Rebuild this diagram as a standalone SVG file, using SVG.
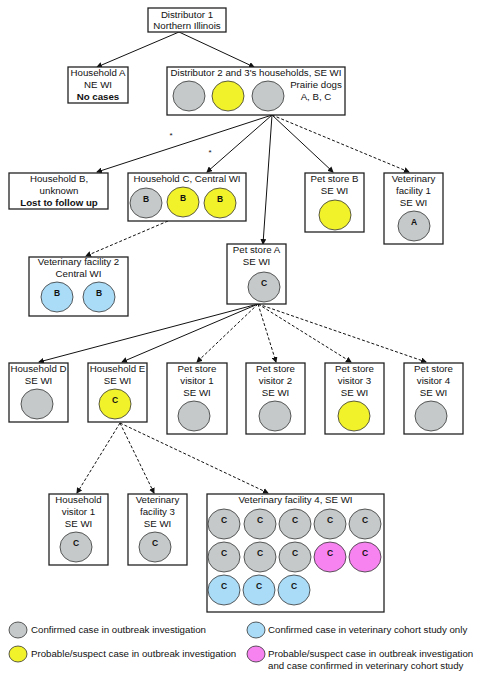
<svg xmlns="http://www.w3.org/2000/svg" width="480" height="684" viewBox="0 0 480 684">
<defs>
<marker id="ah" markerWidth="6" markerHeight="6" refX="5" refY="3" orient="auto" markerUnits="userSpaceOnUse">
<path d="M0,0 L6,3 L0,6 z" fill="#111"/>
</marker>
<style>
.box{fill:#fff;stroke:#222;stroke-width:1.3}
text{font-family:"Liberation Sans",Arial,sans-serif;font-size:9.7px;fill:#111;text-anchor:middle}
.b{font-weight:bold}
.l{font-weight:bold;font-size:8.5px}
.lg{text-anchor:start}
.g{fill:#c5c9c9;stroke:#333;stroke-width:0.8}
.y{fill:#f2f22a;stroke:#333;stroke-width:0.8}
.c{fill:#aadcf7;stroke:#333;stroke-width:0.8}
.p{fill:#f783f0;stroke:#333;stroke-width:0.8}
.s{fill:none;stroke:#111;stroke-width:1;marker-end:url(#ah)}
.d{fill:none;stroke:#111;stroke-width:1;stroke-dasharray:3,2;marker-end:url(#ah)}
</style>
</defs>
<rect width="480" height="684" fill="#fff"/>
<g id="connectors">
<line class="s" x1="179" y1="32" x2="97" y2="67"/>
<line class="s" x1="179" y1="32" x2="254" y2="67"/>
<line class="s" x1="272" y1="115" x2="97" y2="172"/>
<line class="s" x1="272" y1="115" x2="207" y2="172"/>
<line class="s" x1="272" y1="115" x2="263" y2="244"/>
<line class="s" x1="272" y1="115" x2="333" y2="172"/>
<line class="d" x1="272" y1="115" x2="409" y2="172"/>
<line class="d" x1="168" y1="221" x2="86" y2="256"/>
<line class="s" x1="258" y1="304" x2="39" y2="362"/>
<line class="s" x1="258" y1="304" x2="122" y2="362"/>
<line class="d" x1="258" y1="304" x2="197" y2="362"/>
<line class="d" x1="258" y1="304" x2="276" y2="362"/>
<line class="d" x1="258" y1="304" x2="351" y2="362"/>
<line class="d" x1="258" y1="304" x2="426" y2="362"/>
<line class="d" x1="120" y1="423" x2="77" y2="493"/>
<line class="d" x1="120" y1="423" x2="154" y2="493"/>
<line class="d" x1="120" y1="423" x2="268" y2="493"/>
<text x="171" y="138" style="font-size:8px">*</text>
<text x="210" y="155" style="font-size:8px">*</text>
</g>
<g id="distributor1">
<rect class="box" x="148" y="8" width="78" height="24"/>
<text x="187" y="18">Distributor 1</text>
<text x="187" y="29">Northern Illinois</text>
</g>
<g id="householdA">
<rect class="box" x="68" y="67" width="60" height="36"/>
<text x="98" y="76">Household A</text>
<text x="98" y="88">NE WI</text>
<text x="98" y="100" class="b">No cases</text>
</g>
<g id="distributor2">
<rect class="box" x="167" y="67" width="178" height="48"/>
<text x="256" y="76">Distributor 2 and 3's households, SE WI</text>
<ellipse class="g" cx="189" cy="96" rx="16" ry="15"/>
<ellipse class="y" cx="228" cy="96" rx="16" ry="15"/>
<ellipse class="g" cx="268" cy="96" rx="16" ry="15"/>
<text x="316" y="88">Prairie dogs</text>
<text x="316" y="100">A, B, C</text>
</g>
<g id="householdB">
<rect class="box" x="9" y="173" width="99" height="36"/>
<text x="59" y="182">Household B,</text>
<text x="59" y="194">unknown</text>
<text x="59" y="206" class="b">Lost to follow up</text>
</g>
<g id="householdC">
<rect class="box" x="128" y="173" width="118" height="48"/>
<text x="187" y="182">Household C, Central WI</text>
<ellipse class="g" cx="146" cy="203" rx="16" ry="15"/>
<text x="146" y="202" class="l">B</text>
<ellipse class="y" cx="183" cy="202" rx="16" ry="15"/>
<text x="183" y="201" class="l">B</text>
<ellipse class="y" cx="220" cy="203" rx="16" ry="15"/>
<text x="220" y="202" class="l">B</text>
</g>
<g id="petstoreB">
<rect class="box" x="305" y="173" width="59" height="59"/>
<text x="334.5" y="182">Pet store B</text>
<text x="334.5" y="194">SE WI</text>
<ellipse class="y" cx="335" cy="215" rx="16" ry="15"/>
</g>
<g id="vet1">
<rect class="box" x="384" y="173" width="59" height="71"/>
<text x="413.5" y="182">Veterinary</text>
<text x="413.5" y="194">facility 1</text>
<text x="413.5" y="206">SE WI</text>
<ellipse class="g" cx="414" cy="226" rx="16" ry="15"/>
<text x="414" y="225" class="l">A</text>
</g>
<g id="vet2">
<rect class="box" x="29" y="257" width="99" height="59"/>
<text x="78.5" y="265">Veterinary facility 2</text>
<text x="78.5" y="277">Central WI</text>
<ellipse class="c" cx="57" cy="297" rx="16" ry="15"/>
<text x="57" y="296" class="l">B</text>
<ellipse class="c" cx="99" cy="297" rx="16" ry="15"/>
<text x="99" y="296" class="l">B</text>
</g>
<g id="petstoreA">
<rect class="box" x="227" y="244" width="59" height="60"/>
<text x="256.5" y="253">Pet store A</text>
<text x="256.5" y="265">SE WI</text>
<ellipse class="g" cx="264" cy="287" rx="16" ry="15"/>
<text x="264" y="286" class="l">C</text>
</g>
<g id="householdD">
<rect class="box" x="9" y="363" width="59" height="59"/>
<text x="38.5" y="372">Household D</text>
<text x="38.5" y="384">SE WI</text>
<ellipse class="g" cx="37" cy="404" rx="16" ry="15"/>
</g>
<g id="householdE">
<rect class="box" x="88" y="363" width="59" height="59"/>
<text x="117.5" y="372">Household E</text>
<text x="117.5" y="384">SE WI</text>
<ellipse class="y" cx="115" cy="404" rx="16" ry="15"/>
<text x="115" y="403" class="l">C</text>
</g>
<g id="visitor1">
<rect class="box" x="167" y="363" width="60" height="71"/>
<text x="197" y="372">Pet store</text>
<text x="197" y="384">visitor 1</text>
<text x="197" y="396">SE WI</text>
<ellipse class="g" cx="194" cy="416" rx="16" ry="15"/>
</g>
<g id="visitor2">
<rect class="box" x="246" y="363" width="59" height="71"/>
<text x="275.5" y="372">Pet store</text>
<text x="275.5" y="384">visitor 2</text>
<text x="275.5" y="396">SE WI</text>
<ellipse class="g" cx="275" cy="416" rx="16" ry="15"/>
</g>
<g id="visitor3">
<rect class="box" x="325" y="363" width="59" height="71"/>
<text x="354.5" y="372">Pet store</text>
<text x="354.5" y="384">visitor 3</text>
<text x="354.5" y="396">SE WI</text>
<ellipse class="y" cx="354" cy="416" rx="16" ry="15"/>
</g>
<g id="visitor4">
<rect class="box" x="404" y="363" width="59" height="71"/>
<text x="433.5" y="372">Pet store</text>
<text x="433.5" y="384">visitor 4</text>
<text x="433.5" y="396">SE WI</text>
<ellipse class="g" cx="431" cy="416" rx="16" ry="15"/>
</g>
<g id="householdVisitor1">
<rect class="box" x="49" y="494" width="59" height="71"/>
<text x="78.5" y="503">Household</text>
<text x="78.5" y="515">visitor 1</text>
<text x="78.5" y="527">SE WI</text>
<ellipse class="g" cx="76" cy="547" rx="16" ry="15"/>
<text x="76" y="546" class="l">C</text>
</g>
<g id="vet3">
<rect class="box" x="128" y="494" width="59" height="71"/>
<text x="157.5" y="503">Veterinary</text>
<text x="157.5" y="515">facility 3</text>
<text x="157.5" y="527">SE WI</text>
<ellipse class="g" cx="155" cy="547" rx="16" ry="15"/>
<text x="155" y="546" class="l">C</text>
</g>
<g id="vet4">
<rect class="box" x="207" y="494" width="177" height="118"/>
<text x="295.5" y="503">Veterinary facility 4, SE WI</text>
<ellipse class="g" cx="224" cy="524" rx="16" ry="15"/><text x="224" y="523" class="l">C</text>
<ellipse class="g" cx="260" cy="524" rx="16" ry="15"/><text x="260" y="523" class="l">C</text>
<ellipse class="g" cx="295" cy="524" rx="16" ry="15"/><text x="295" y="523" class="l">C</text>
<ellipse class="g" cx="330" cy="524" rx="16" ry="15"/><text x="330" y="523" class="l">C</text>
<ellipse class="g" cx="365" cy="524" rx="16" ry="15"/><text x="365" y="523" class="l">C</text>
<ellipse class="g" cx="224" cy="557" rx="16" ry="15"/><text x="224" y="556" class="l">C</text>
<ellipse class="g" cx="260" cy="557" rx="16" ry="15"/><text x="260" y="556" class="l">C</text>
<ellipse class="g" cx="295" cy="557" rx="16" ry="15"/><text x="295" y="556" class="l">C</text>
<ellipse class="p" cx="330" cy="557" rx="16" ry="15"/><text x="330" y="556" class="l">C</text>
<ellipse class="p" cx="365" cy="557" rx="16" ry="15"/><text x="365" y="556" class="l">C</text>
<ellipse class="c" cx="224" cy="590" rx="16" ry="15"/><text x="224" y="589" class="l">C</text>
<ellipse class="c" cx="259" cy="590" rx="16" ry="15"/><text x="259" y="589" class="l">C</text>
<ellipse class="c" cx="294" cy="590" rx="16" ry="15"/><text x="294" y="589" class="l">C</text>
</g>
<g id="legend">
<ellipse class="g" cx="18" cy="630" rx="9" ry="8"/>
<text class="lg" x="31" y="633">Confirmed case in outbreak investigation</text>
<ellipse class="y" cx="18" cy="654" rx="9" ry="8"/>
<text class="lg" x="31" y="657">Probable/suspect case in outbreak investigation</text>
<ellipse class="c" cx="256" cy="630" rx="9" ry="8"/>
<text class="lg" x="268" y="633">Confirmed case in veterinary cohort study only</text>
<ellipse class="p" cx="256" cy="654" rx="9" ry="8"/>
<text class="lg" x="268" y="657">Probable/suspect case in outbreak investigation</text>
<text class="lg" x="268" y="669">and case confirmed in veterinary cohort study</text>
</g>
</svg>
